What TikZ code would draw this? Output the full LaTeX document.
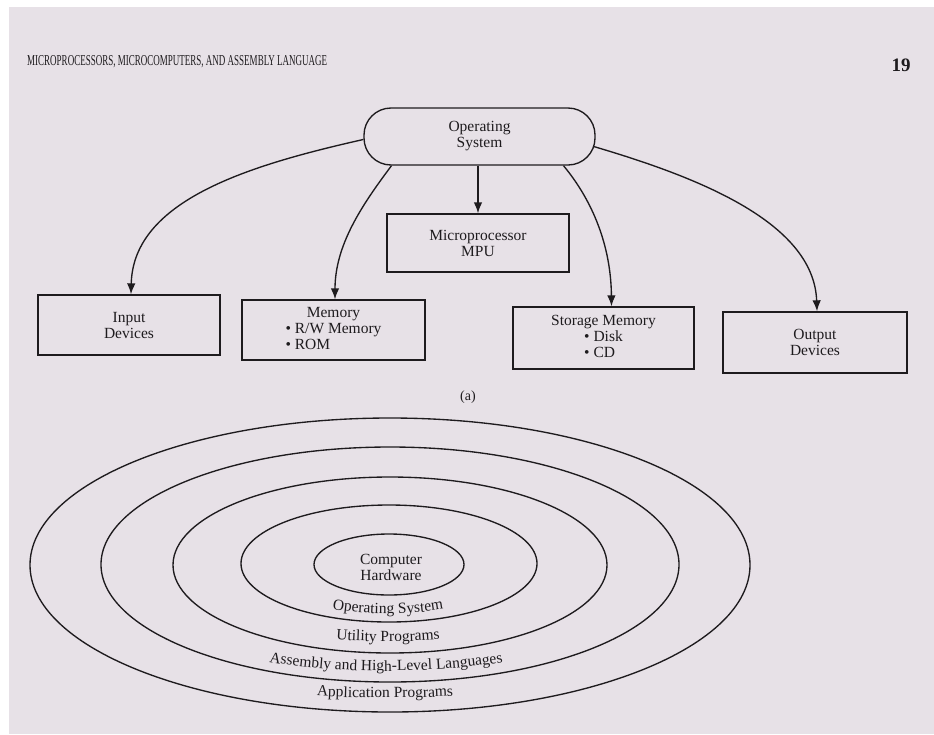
\documentclass[tikz,border=0pt]{standalone}
\usepackage{fontspec}
\usepackage{graphicx}
\setmainfont{Liberation Serif}
\usetikzlibrary{arrows.meta,decorations.text}

\definecolor{paper}{RGB}{231,225,231}
\definecolor{ink}{RGB}{30,27,30}
\newcommand\lblfont{\fontsize{15.5}{16}\selectfont}

\tikzset{
  line/.style={draw=ink, line width=1.35pt},
  arr/.style={line, -{Latex[length=11pt,width=8.5pt]}},
  boxnode/.style={line, rectangle, inner sep=0pt, align=center, font=\lblfont, text=ink},
  ring/.style={line},
  ringtext/.style={decorate, decoration={text along path, text align=center,
      text color=ink}},
}

\begin{document}
\begin{tikzpicture}[x=1pt, y=-1pt]
  % page
  \useasboundingbox (0,0) rectangle (934,734);
  \fill[white] (0,0) rectangle (934,734);
  \fill[paper] (9,7) rectangle (934,734);

  % running head
  \node[anchor=base west, inner sep=0pt, text=ink] (hdr) at (27,65)
    {\resizebox{300pt}{10pt}{MICROPROCESSORS, MICROCOMPUTERS, AND ASSEMBLY LANGUAGE}};
  \node[anchor=base, inner sep=0pt, text=ink, font=\fontsize{19}{19}\selectfont\bfseries] (pg) at (901,71) {19};

  % ---------- (a) operating system and its resources ----------
  \node[boxnode, minimum width=231pt, minimum height=57pt, rounded corners=27pt]
    (os) at (479.5,136.5) {Operating\\System};
  \node[boxnode, minimum width=182pt, minimum height=58pt]
    (mpu) at (478,243) {Microprocessor\\MPU};
  \node[boxnode, minimum width=182pt, minimum height=60pt]
    (inp) at (129,325) {Input\\Devices};
  \node[boxnode, minimum width=183pt, minimum height=60pt]
    (mem) at (333.5,330)
    {\setlength\tabcolsep{0pt}%
     \begin{tabular}{c}Memory\\
       \begin{tabular}{l}\textbullet\ R/W Memory\\ \textbullet\ ROM\end{tabular}
     \end{tabular}};
  \node[boxnode, minimum width=181pt, minimum height=62pt]
    (sto) at (603.5,338)
    {\setlength\tabcolsep{0pt}%
     \begin{tabular}{c}Storage Memory\\
       \begin{tabular}{l}\textbullet\ Disk\\ \textbullet\ CD\end{tabular}
     \end{tabular}};
  \node[boxnode, minimum width=184pt, minimum height=61pt]
    (out) at (815,342.5) {Output\\Devices};

  \draw[arr] (os.south -| mpu.north) -- (mpu.north);
  \draw[arr] ([yshift=-3pt]os.west) .. controls (250,165) and (133,200) .. ([xshift=2pt]inp.north);
  \draw[arr] ([xshift=-88pt]os.south) .. controls (362,205) and (335,245) .. ([xshift=1.5pt]mem.north);
  \draw[arr] ([xshift=84pt]os.south) .. controls (592,200) and (611,245) .. ([xshift=8pt]sto.north);
  \draw[arr] ([shift={(-2pt,-10pt)}]os.east) .. controls (690,175) and (814,220) .. ([xshift=2pt]out.north);

  \node[text=ink, font=\fontsize{14}{14}\selectfont, inner sep=0pt] (capa) at (468,397) {(a)};

  % ---------- layered view of a computer system ----------
  \draw[ring] (390,565) ellipse [x radius=360, y radius=147];
  \draw[ring] (390,564.5) ellipse [x radius=289, y radius=117.5];
  \draw[ring] (390,565) ellipse [x radius=217, y radius=88];
  \draw[ring] (389,563.5) ellipse [x radius=148, y radius=58.5];
  \draw[ring] (389,564.5) ellipse [x radius=75, y radius=30.5];

  \node[align=center, font=\lblfont, text=ink, inner sep=0pt] (hw) at (391,567) {Computer\\Hardware};

  \path[ringtext, decoration={text={|\lblfont|Operating System}}]
    (308,603) .. controls (350,617) and (426,617) .. (468,603);
  \path[ringtext, decoration={text={|\lblfont|Utility Programs}}]
    (313,637) .. controls (358,643) and (418,643) .. (463,637);
  \path[ringtext, decoration={text={|\lblfont|Assembly and High-Level Languages}}]
    (240,656) .. controls (320,676) and (452,676) .. (532,656);
  \path[ringtext, decoration={text={|\lblfont|Application Programs}}]
    (293,694) .. controls (345,699) and (425,699) .. (477,694);
\end{tikzpicture}
\end{document}
